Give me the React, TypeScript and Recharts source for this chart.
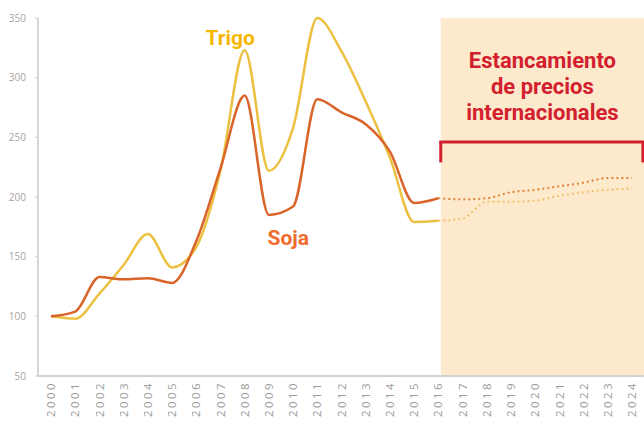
import {
  CartesianGrid,
  Line,
  LineChart,
  ReferenceArea,
  ReferenceDot,
  ReferenceLine,
  XAxis,
  YAxis,
} from "recharts";

const years = [
  2000, 2001, 2002, 2003, 2004, 2005, 2006, 2007, 2008, 2009, 2010, 2011, 2012,
  2013, 2014, 2015, 2016, 2017, 2018, 2019, 2020, 2021, 2022, 2023, 2024,
];

// índice 2000 = 100, observado 2000-2016
const sojaHist = [100, 104, 133, 131, 132, 128, 163, 224, 285, 185, 192, 282, 271, 261, 238, 195, 199];
const trigoHist = [100, 98, 119, 143, 169, 141, 158, 222, 323, 222, 258, 350, 322, 280, 233, 179, 180];

// proyección 2016-2024
const sojaProj = [199, 198, 199, 204, 206, 209, 212, 216, 216];
const trigoProj = [180, 182, 196, 196, 197, 201, 204, 206, 207];

const yTicks = [50, 100, 150, 200, 250, 300, 350];
const projStart = 2016;
const bracketLevel = 246;
const bracketFoot = 229;

const RED = "#d3202e";

const data = years.map((year, i) => {
  const j = i - (years.length - sojaProj.length);
  return {
    year,
    sojaHist: i < sojaHist.length ? sojaHist[i] : null,
    trigoHist: i < trigoHist.length ? trigoHist[i] : null,
    sojaProj: j >= 0 ? sojaProj[j] : null,
    trigoProj: j >= 0 ? trigoProj[j] : null,
  };
});

function YearTick({ x, y, payload }: any) {
  return (
    <text
      x={x}
      y={y}
      transform={`rotate(-90 ${x} ${y})`}
      textAnchor="end"
      dy="0.36em"
      fill="#9a9a9a"
      fontSize={11.5}
      letterSpacing={2.4}
      fontFamily="'Open Sans', sans-serif"
    >
      {payload.value}
    </text>
  );
}

function StagnationLabel({ viewBox }: any) {
  const cx = viewBox.x + viewBox.width / 2;
  const lines = ["Estancamiento", "de precios", "internacionales"];
  return (
    <g>
      {lines.map((t, i) => (
        <text
          key={t}
          x={cx}
          y={viewBox.y + 50 + i * 26}
          textAnchor="middle"
          fill={RED}
          fontSize={22}
          fontWeight={700}
          fontFamily="Roboto, sans-serif"
        >
          {t}
        </text>
      ))}
    </g>
  );
}

function seriesLabel(text: string, color: string) {
  return (p: any) => (
    <text
      x={p.cx}
      y={p.cy}
      textAnchor="middle"
      fill={color}
      fontSize={21}
      fontWeight={700}
      fontFamily="Roboto, sans-serif"
    >
      {text}
    </text>
  );
}

export default function App() {
  return (
    <div style={{ position: "absolute", left: 0, top: 0, width: 644, height: 426, background: "#fff" }}>
      <LineChart width={644} height={426} data={data} margin={{ top: 18, right: 0, bottom: 0, left: 0 }}>
        <CartesianGrid horizontal={false} vertical={false} />
        <ReferenceArea
          x1={projStart + 0.1}
          x2={2024.5}
          fill="#fde9cc"
          fillOpacity={1}
          ifOverflow="visible"
          label={<StagnationLabel />}
        />
        <XAxis
          dataKey="year"
          type="number"
          domain={[2000, 2024]}
          ticks={years}
          interval={0}
          padding={{ left: 13, right: 12 }}
          height={50}
          tickLine={false}
          tickSize={0}
          tickMargin={5}
          axisLine={{ stroke: "#d0d0d0", strokeWidth: 2 }}
          tick={<YearTick />}
        />
        <YAxis
          domain={[50, 350]}
          ticks={yTicks}
          width={38}
          tickSize={3}
          tickMargin={9}
          axisLine={{ stroke: "#d6d6d6", strokeWidth: 2 }}
          tickLine={{ stroke: "#cfcfcf" }}
          tick={{ fill: "#a3a3a3", fontSize: 10, fontFamily: "'Open Sans', sans-serif" }}
        />
        <ReferenceLine
          segment={[{ x: projStart + 0.1, y: bracketLevel }, { x: 2024.45, y: bracketLevel }]}
          stroke={RED}
          strokeWidth={3}
          strokeLinecap="square"
          ifOverflow="visible"
        />
        <ReferenceLine
          segment={[{ x: projStart + 0.1, y: bracketLevel }, { x: projStart + 0.1, y: bracketFoot }]}
          stroke={RED}
          strokeWidth={3}
          ifOverflow="visible"
        />
        <ReferenceLine
          segment={[{ x: 2024.45, y: bracketLevel }, { x: 2024.45, y: bracketFoot }]}
          stroke={RED}
          strokeWidth={3}
          ifOverflow="visible"
        />
        <Line type="monotone" dataKey="trigoHist" stroke="#ecc040" strokeWidth={2.5} dot={false} isAnimationActive={false} />
        <Line type="monotone" dataKey="sojaHist" stroke="#d9652b" strokeWidth={2.5} dot={false} isAnimationActive={false} />
        <Line
          type="monotone"
          dataKey="trigoProj"
          stroke="#f2c26e"
          strokeWidth={2}
          strokeDasharray="2 3"
          dot={false}
          isAnimationActive={false}
        />
        <Line
          type="monotone"
          dataKey="sojaProj"
          stroke="#e0843a"
          strokeWidth={2}
          strokeDasharray="2 3"
          dot={false}
          isAnimationActive={false}
        />
        <ReferenceDot x={2007.4} y={327} r={0} ifOverflow="visible" shape={seriesLabel("Trigo", "#f6b700")} />
        <ReferenceDot x={2009.8} y={160} r={0} ifOverflow="visible" shape={seriesLabel("Soja", "#ef6c2c")} />
      </LineChart>
    </div>
  );
}
